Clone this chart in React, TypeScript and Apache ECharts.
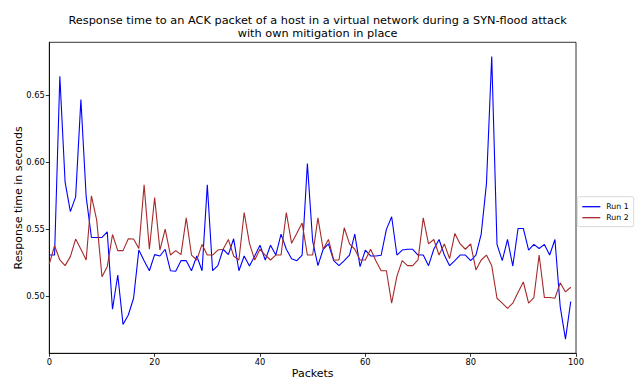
import React, { useEffect, useRef } from "react";
import * as echarts from "echarts";

const titleLines = [
  "Response time to an ACK packet of a host in a virtual network during a SYN-flood attack",
  "with own mitigation in place",
];
const xLabel = "Packets";
const yLabel = "Response time in seconds";
const seriesNames = ["Run 1", "Run 2"];
const yTicks = [0.5, 0.55, 0.6, 0.65];

const run1 = [
  0.5307, 0.5307, 0.664, 0.585, 0.563, 0.574, 0.6465, 0.574, 0.5438, 0.5438,
  0.5438, 0.548, 0.4903, 0.5158, 0.479, 0.486, 0.4985, 0.5344, 0.5265, 0.519,
  0.531, 0.53, 0.535, 0.519, 0.5186, 0.5265, 0.5265, 0.519, 0.53, 0.519,
  0.583, 0.519, 0.5228, 0.535, 0.531, 0.5428, 0.519, 0.53, 0.5225, 0.53,
  0.538, 0.527, 0.538, 0.5307, 0.5463, 0.535, 0.528, 0.5265, 0.5307, 0.5988,
  0.541, 0.5228, 0.535, 0.539, 0.5265, 0.5228, 0.5265, 0.5307, 0.5463, 0.522,
  0.5344, 0.53, 0.53, 0.5305, 0.5498, 0.5592, 0.5307, 0.5344, 0.535, 0.535,
  0.5307, 0.5307, 0.5228, 0.535, 0.5423, 0.5307, 0.5228, 0.5265, 0.5307, 0.5307,
  0.5265, 0.5307, 0.5463, 0.5839, 0.6787, 0.5386, 0.5265, 0.5423, 0.5225, 0.5505,
  0.5505, 0.5344, 0.5386, 0.5356, 0.5386, 0.5307, 0.5423, 0.4923, 0.468, 0.496,
];

const run2 = [
  0.524, 0.5376, 0.527, 0.5228, 0.5295, 0.5426, 0.535, 0.527, 0.5748, 0.5567,
  0.5146, 0.522, 0.546, 0.534, 0.534, 0.5428, 0.5426, 0.5356, 0.583, 0.535,
  0.5735, 0.5344, 0.55, 0.5307, 0.534, 0.531, 0.5584, 0.5307, 0.527, 0.5386,
  0.5307, 0.5307, 0.5344, 0.535, 0.5423, 0.53, 0.527, 0.5624, 0.5394, 0.527,
  0.535, 0.5307, 0.527, 0.5307, 0.5307, 0.5624, 0.5394, 0.547, 0.5545, 0.5307,
  0.5307, 0.5584, 0.535, 0.5423, 0.527, 0.527, 0.551, 0.539, 0.535, 0.527,
  0.527, 0.535, 0.5265, 0.519, 0.519, 0.4948, 0.515, 0.5265, 0.5228, 0.5228,
  0.527, 0.5584, 0.539, 0.5423, 0.5307, 0.539, 0.528, 0.5468, 0.539, 0.535,
  0.539, 0.5196, 0.527, 0.5307, 0.5228, 0.4985, 0.4948, 0.491, 0.4948, 0.503,
  0.5106, 0.4948, 0.499, 0.5307, 0.499, 0.499, 0.4985, 0.51, 0.5032, 0.5067,
];

const colors = ["#0000ff", "#a52a2a"];

export default function App() {
  const ref = useRef<HTMLDivElement>(null);
  useEffect(() => {
    if (!ref.current) return;
    const chart = echarts.init(ref.current, null, { renderer: "svg" });
    const font = "DejaVu Sans";
    const allVals = run1.concat(run2);
    const dMin = Math.min(...allVals);
    const dMax = Math.max(...allVals);
    const pad = (dMax - dMin) * 0.05;
    chart.setOption({
      animation: false,
      title: {
        text: titleLines.join("\n"),
        left: 312.6,
        textAlign: "center",
        top: 9.5,
        textStyle: {
          fontFamily: font,
          fontSize: 11.3,
          fontWeight: "normal",
          color: "#000",
          lineHeight: 12.7,
        },
      },
      legend: {
        orient: "vertical",
        left: 577.3,
        top: 196.7,
        padding: [6, 5, 5, 5],
        itemGap: 3,
        itemWidth: 18,
        itemHeight: 1.3,
        icon: "rect",
        borderColor: "#d8d8d8",
        borderWidth: 1,
        borderRadius: 2,
        textStyle: { fontFamily: font, fontSize: 7.8, color: "#000", padding: [0, 0, 0, 1] },
        data: seriesNames,
      },
      grid: {
        left: 49.3,
        right: 66,
        top: 42.3,
        bottom: 29.7,
        show: true,
        borderColor: "#000",
        borderWidth: 0.8,
        containLabel: false,
        outerBoundsMode: "none",
      },
      xAxis: {
        type: "value",
        min: 0,
        max: 100,
        interval: 20,
        name: xLabel,
        nameLocation: "middle",
        nameGap: 14.5,
        nameMoveOverlap: false,
        nameTextStyle: {
          fontFamily: font,
          fontSize: 11,
          color: "#000",
          verticalAlign: "top",
        },
        axisLine: { show: true, lineStyle: { color: "#000", width: 0.8 } },
        axisTick: { show: true, inside: false, length: 3.5, lineStyle: { color: "#000", width: 0.8 } },
        axisLabel: {
          fontFamily: font,
          fontSize: 8.3,
          color: "#000",
          margin: 4.5,
        },
        splitLine: { show: false },
      },
      yAxis: {
        type: "value",
        min: dMin - pad,
        max: dMax + pad,
        name: yLabel,
        nameLocation: "middle",
        nameGap: 31,
        nameMoveOverlap: false,
        nameTextStyle: { fontFamily: font, fontSize: 11, color: "#000", verticalAlign: "middle" },
        axisLine: { show: true, lineStyle: { color: "#000", width: 0.8 } },
        axisTick: {
          show: true,
          length: 3.5,
          lineStyle: { color: "#000", width: 0.8 },
          customValues: yTicks,
        },
        axisLabel: {
          fontFamily: font,
          fontSize: 8.3,
          color: "#000",
          margin: 4.5,
          customValues: yTicks,
          formatter: (v: number) => v.toFixed(2),
        },
        splitLine: { show: false },
      },
      series: [run1, run2].map((d, k) => ({
        name: seriesNames[k],
        type: "line",
        data: d.map((v, i) => [i, v]),
        showSymbol: false,
        symbol: "none",
        lineStyle: { color: colors[k], width: 1.1 },
        itemStyle: { color: colors[k] },
      })),
    });
    return () => chart.dispose();
  }, []);
  return <div ref={ref} style={{ width: 642, height: 383, position: "absolute", left: 0, top: 0 }} />;
}
